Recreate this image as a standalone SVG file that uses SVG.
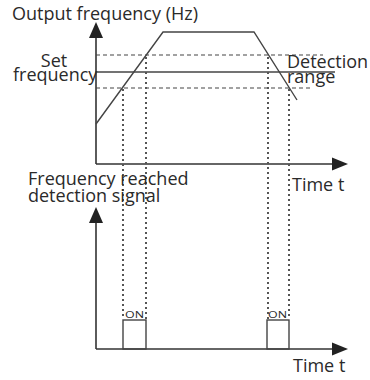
<svg xmlns="http://www.w3.org/2000/svg" width="370" height="380" viewBox="0 0 370 380">
<style>
text{font-family:"Open Sans","Liberation Sans",sans-serif;font-size:18px;fill:#2a2a2a}
.ax{stroke:#333;stroke-width:1.6;fill:none}
.ln{stroke:#444;stroke-width:1.4;fill:none}
.da{stroke:#444;stroke-width:1.2;stroke-dasharray:4 3;fill:none}
.dt{stroke:#555;stroke-width:2;stroke-dasharray:2 3;fill:none}
.ar{fill:#222}
.on{font-size:9px}
</style>
<rect width="370" height="380" fill="#fff"/>
<g id="top-chart">
<line class="ax" x1="96" y1="164" x2="96" y2="36"/>
<polygon class="ar" points="96,22 89,38 103,38"/>
<line class="ax" x1="96" y1="164" x2="334" y2="164"/>
<polygon class="ar" points="348,164 332,157.5 332,170.5"/>
<line class="da" x1="96" y1="55" x2="323" y2="55"/>
<line class="ln" x1="96" y1="72" x2="335" y2="72"/>
<line class="da" x1="96" y1="88" x2="310" y2="88"/>
<polyline class="ln" points="96,124 163,32 254,32 297,100"/>
</g>
<g id="bottom-chart">
<line class="ax" x1="96" y1="349" x2="96" y2="221"/>
<polygon class="ar" points="96,207 89,223 103,223"/>
<line class="ax" x1="96" y1="349" x2="334" y2="349"/>
<polygon class="ar" points="348,349 332,342.5 332,355.5"/>
<rect class="ln" x="123" y="320" width="23" height="29"/>
<rect class="ln" x="267" y="320" width="22" height="29"/>
</g>
<g id="connectors">
<line class="dt" x1="123" y1="89" x2="123" y2="319"/>
<line class="dt" x1="146" y1="57" x2="146" y2="319"/>
<line class="dt" x1="268" y1="57" x2="268" y2="319"/>
<line class="dt" x1="289" y1="89" x2="289" y2="319"/>
</g>
<g id="labels">
<text x="12" y="20">Output frequency (Hz)</text>
<text x="54" y="67" text-anchor="middle">Set</text>
<text x="13" y="81">frequency</text>
<text x="287" y="68">Detection</text>
<text x="287" y="83">range</text>
<text x="292" y="191">Time t</text>
<text x="28" y="185">Frequency reached</text>
<text x="28" y="202">detection signal</text>
<text x="293" y="372">Time t</text>
<text class="on" x="125" y="318" textLength="19" lengthAdjust="spacingAndGlyphs">ON</text>
<text class="on" x="268" y="318" textLength="19" lengthAdjust="spacingAndGlyphs">ON</text>
</g>
</svg>
